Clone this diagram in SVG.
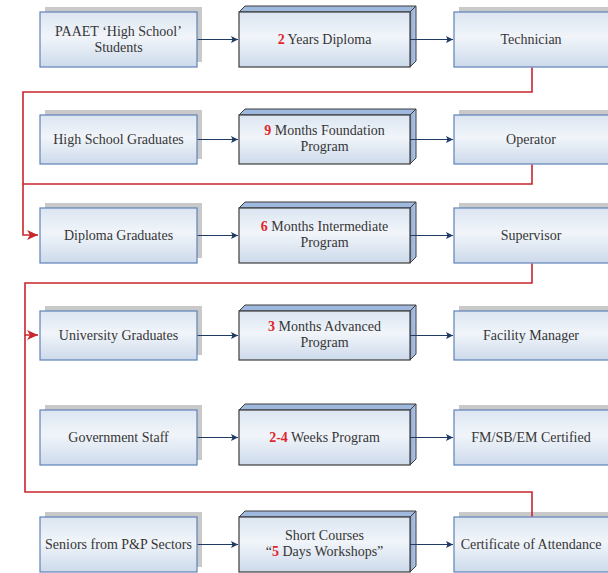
<svg xmlns="http://www.w3.org/2000/svg" width="608" height="573" viewBox="0 0 608 573">
<defs>
<linearGradient id="g" x1="0" y1="0" x2="0" y2="1">
<stop offset="0" stop-color="#dbe5f1"/>
<stop offset="0.45" stop-color="#f1f5fa"/>
<stop offset="1" stop-color="#cddaeb"/>
</linearGradient>
<linearGradient id="gs" x1="0" y1="0" x2="1" y2="0">
<stop offset="0" stop-color="#8eaad6"/>
<stop offset="1" stop-color="#b3c6e4"/>
</linearGradient>
<marker id="ab" markerWidth="8" markerHeight="8" refX="7" refY="3.5" orient="auto" markerUnits="userSpaceOnUse">
<path d="M0,0 L7,3.5 L0,7 L1.5,3.5 z" fill="#1f3a63"/>
</marker>
<marker id="ar" markerWidth="12" markerHeight="12" refX="11" refY="5" orient="auto" markerUnits="userSpaceOnUse">
<path d="M0,0 L11,5 L0,10 L3,5 z" fill="#c8262c"/>
</marker>
</defs>
<style>
.sh{fill:#c9c9c9}
.bx{fill:url(#g);stroke:#5f82b8;stroke-width:1.2}
.fr{fill:url(#g);stroke:#3d3d3d;stroke-width:1.2}
.tp{fill:#9fb8de;stroke:#3d3d3d;stroke-width:1}
.sd{fill:url(#gs);stroke:#3d3d3d;stroke-width:1}
text{font-family:"Liberation Serif","Times New Roman",serif;font-size:14px;fill:#363636;text-anchor:middle}
.n{fill:#e0262b;font-weight:bold}
.bl{fill:none;stroke:#1f3a63;stroke-width:1;marker-end:url(#ab)}
.rd{fill:none;stroke:#c8262c;stroke-width:1.6}
</style>

<!-- Row 1 -->
<g id="paaet">
<rect class="sh" x="45" y="7" width="157" height="55"/>
<rect class="bx" x="40" y="12" width="157" height="55"/>
<text x="118.5" y="35.5">PAAET ‘High School’</text>
<text x="118.5" y="51.5">Students</text>
</g>
<g id="diploma2">
<path class="tp" d="M239,12 L245,6 L416,6 L410,12 z"/>
<path class="sd" d="M410,12 L416,6 L416,61 L410,67 z"/>
<rect class="fr" x="239" y="12" width="171" height="55"/>
<text x="324.5" y="44"><tspan class="n">2</tspan> Years Diploma</text>
</g>
<g id="technician">
<rect class="sh" x="459" y="7" width="160" height="55"/>
<rect class="bx" x="454" y="12" width="160" height="55"/>
<text x="531" y="44">Technician</text>
</g>

<!-- Row 2 -->
<g id="hsgrad">
<rect class="sh" x="45" y="110" width="157" height="49"/>
<rect class="bx" x="40" y="115" width="157" height="49"/>
<text x="118.5" y="144">High School Graduates</text>
</g>
<g id="foundation">
<path class="tp" d="M239,115 L245,109 L416,109 L410,115 z"/>
<path class="sd" d="M410,115 L416,109 L416,158 L410,164 z"/>
<rect class="fr" x="239" y="115" width="171" height="49"/>
<text x="324.5" y="135"><tspan class="n">9</tspan> Months Foundation</text>
<text x="324.5" y="151">Program</text>
</g>
<g id="operator">
<rect class="sh" x="459" y="110" width="160" height="49"/>
<rect class="bx" x="454" y="115" width="160" height="49"/>
<text x="531" y="144">Operator</text>
</g>

<!-- Row 3 -->
<g id="diplomagrad">
<rect class="sh" x="45" y="203" width="157" height="55"/>
<rect class="bx" x="40" y="208" width="157" height="55"/>
<text x="118.5" y="240">Diploma Graduates</text>
</g>
<g id="intermediate">
<path class="tp" d="M239,208 L245,202 L416,202 L410,208 z"/>
<path class="sd" d="M410,208 L416,202 L416,257 L410,263 z"/>
<rect class="fr" x="239" y="208" width="171" height="55"/>
<text x="324.5" y="231"><tspan class="n">6</tspan> Months Intermediate</text>
<text x="324.5" y="247">Program</text>
</g>
<g id="supervisor">
<rect class="sh" x="459" y="203" width="160" height="55"/>
<rect class="bx" x="454" y="208" width="160" height="55"/>
<text x="531" y="240">Supervisor</text>
</g>

<!-- Row 4 -->
<g id="unigrad">
<rect class="sh" x="45" y="306" width="157" height="49"/>
<rect class="bx" x="40" y="311" width="157" height="49"/>
<text x="118.5" y="340">University Graduates</text>
</g>
<g id="advanced">
<path class="tp" d="M239,311 L245,305 L416,305 L410,311 z"/>
<path class="sd" d="M410,311 L416,305 L416,354 L410,360 z"/>
<rect class="fr" x="239" y="311" width="171" height="49"/>
<text x="324.5" y="331"><tspan class="n">3</tspan> Months Advanced</text>
<text x="324.5" y="347">Program</text>
</g>
<g id="facility">
<rect class="sh" x="459" y="306" width="160" height="49"/>
<rect class="bx" x="454" y="311" width="160" height="49"/>
<text x="531" y="340">Facility Manager</text>
</g>

<!-- Row 5 -->
<g id="govstaff">
<rect class="sh" x="45" y="405" width="157" height="55"/>
<rect class="bx" x="40" y="410" width="157" height="55"/>
<text x="118.5" y="442">Government Staff</text>
</g>
<g id="weeks">
<path class="tp" d="M239,410 L245,404 L416,404 L410,410 z"/>
<path class="sd" d="M410,410 L416,404 L416,459 L410,465 z"/>
<rect class="fr" x="239" y="410" width="171" height="55"/>
<text x="324.5" y="442"><tspan class="n">2-4</tspan> Weeks Program</text>
</g>
<g id="certified">
<rect class="sh" x="459" y="405" width="160" height="55"/>
<rect class="bx" x="454" y="410" width="160" height="55"/>
<text x="531" y="442">FM/SB/EM Certified</text>
</g>

<!-- Row 6 -->
<g id="seniors">
<rect class="sh" x="45" y="512" width="157" height="55"/>
<rect class="bx" x="40" y="517" width="157" height="55"/>
<text x="118.5" y="549">Seniors from P&amp;P Sectors</text>
</g>
<g id="shortcourses">
<path class="tp" d="M239,517 L245,511 L416,511 L410,517 z"/>
<path class="sd" d="M410,517 L416,511 L416,566 L410,572 z"/>
<rect class="fr" x="239" y="517" width="171" height="55"/>
<text x="324.5" y="540">Short Courses</text>
<text x="324.5" y="556">“<tspan class="n">5</tspan> Days Workshops”</text>
</g>
<g id="certificate">
<rect class="sh" x="459" y="512" width="160" height="55"/>
<rect class="bx" x="454" y="517" width="160" height="55"/>
<text x="531" y="549">Certificate of Attendance</text>
</g>

<g id="connectors">
<path class="rd" d="M532,67.6 V92 H23 V235 H38" marker-end="url(#ar)"/>
<path class="rd" d="M532,164.6 V184 H23"/>
<path class="rd" d="M532,263.6 V283 H25 V335 H38" marker-end="url(#ar)"/>
<path class="rd" d="M532,516.4 V492 H25 V335"/>
<path class="bl" d="M197.6,39.5 H238"/>
<path class="bl" d="M410,39.5 H453"/>
<path class="bl" d="M197.6,139.5 H238"/>
<path class="bl" d="M410,139.5 H453"/>
<path class="bl" d="M197.6,235.5 H238"/>
<path class="bl" d="M410,235.5 H453"/>
<path class="bl" d="M197.6,335.5 H238"/>
<path class="bl" d="M410,335.5 H453"/>
<path class="bl" d="M197.6,437.5 H238"/>
<path class="bl" d="M410,437.5 H453"/>
<path class="bl" d="M197.6,544.5 H238"/>
<path class="bl" d="M410,544.5 H453"/>
</g>
</svg>
